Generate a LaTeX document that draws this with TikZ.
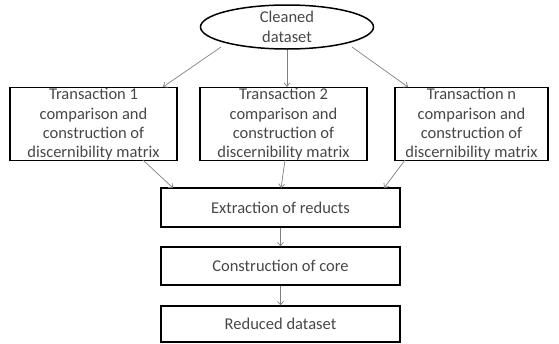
\documentclass[tikz,border=0pt]{standalone}
\usepackage{fontspec}
\setmainfont{Carlito}
\usetikzlibrary{shapes.geometric,arrows.meta}
\begin{document}
\begin{tikzpicture}[x=1pt,y=-1pt,
  txt/.style={inner sep=0pt,align=center,font=\fontsize{16.5}{19.4}\selectfont,text=black!72},
  box/.style={draw=black,line width=1.3pt,rectangle,inner sep=0pt,txt},
  tbox/.style={draw=black,line width=1.3pt,rectangle,inner sep=0pt,minimum height=73pt},
  oval/.style={draw=black,line width=1.5pt,ellipse,inner sep=0pt,txt},
  conn/.style={draw=black!50,line width=0.7pt,-{Straight Barb[length=3.5pt,width=6pt]}}]
\useasboundingbox (0,0) rectangle (559,343);
\node[oval,minimum width=173pt,minimum height=44pt] (cd) at (287,27) {Cleaned\\dataset};
\node[tbox,minimum width=167pt,label={[txt,name=l1,yshift=-0.5pt]center:Transaction 1\\comparison and\\construction of\\discernibility matrix}] (t1) at (93.5,124) {};
\node[tbox,minimum width=167pt,label={[txt,name=l2,yshift=-0.5pt]center:Transaction 2\\comparison and\\construction of\\discernibility matrix}] (t2) at (283.5,124) {};
\node[tbox,minimum width=153pt,label={[txt,name=l3,yshift=-0.5pt]center:Transaction n\\comparison and\\construction of\\discernibility matrix}] (tn) at (471.5,124) {};
\node[box,minimum width=239pt,minimum height=39pt] (ex) at (280.5,207.5) {Extraction of reducts};
\node[box,minimum width=239pt,minimum height=38pt] (co) at (280.5,266) {Construction of core};
\node[box,minimum width=239pt,minimum height=36pt] (rd) at (280.5,324) {Reduced dataset};
\coordinate (s1) at (221,47);
\coordinate (s3) at (352,47);
\coordinate (e1) at (163,87);
\coordinate (e3) at (408,87);
\coordinate (b1) at (143,160);
\coordinate (b2) at (285,160);
\coordinate (b3) at (405,160);
\coordinate (x1) at (173,188);
\coordinate (x2) at (281,188);
\coordinate (x3) at (384,188);
\draw[conn] (s1) -- (e1);
\draw[conn] (cd.south) -- (cd.south |- t2.north);
\draw[conn] (s3) -- (e3);
\draw[conn] (b1) -- (x1);
\draw[conn] (b2) -- (x2);
\draw[conn] (b3) -- (x3);
\draw[conn] (ex.south) -- (co.north);
\draw[conn] (co.south) -- (rd.north);
\end{tikzpicture}
\end{document}
